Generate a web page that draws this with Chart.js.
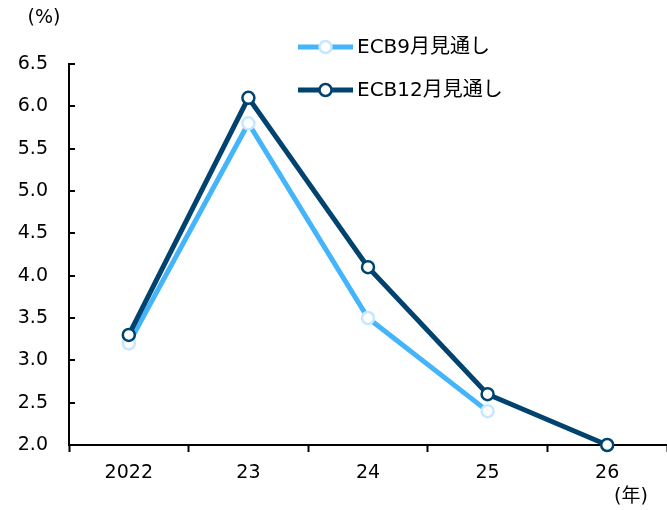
<!DOCTYPE html>
<html>
<head>
<meta charset="utf-8">
<script src="https://cdn.jsdelivr.net/npm/chart.js@4/dist/chart.umd.min.js"></script>
<style>
  html, body { margin: 0; padding: 0; background: #fff; }
  #wrap { position: relative; width: 667px; height: 510px; }
</style>
</head>
<body>
<div id="wrap"><canvas id="c" width="667" height="510"></canvas></div>
<script>
// Years on the horizontal axis
const years = ['2022', '23', '24', '25', '26'];
// ECB inflation projections (%)
const septProjection = [3.2, 5.8, 3.5, 2.4, null];
const decProjection = [3.3, 6.1, 4.1, 2.6, 2.0];
const seriesNames = ['ECB9月見通し', 'ECB12月見通し'];
const yMin = 2.0, yMax = 6.5, yStep = 0.5;

const FONT = "'DejaVu Sans', 'Noto Sans CJK JP', sans-serif";
const LIGHT = '#45b5fb';
const LIGHT_PT = '#c6e7ff';
const DARK = '#00436f';

// Short tick marks on the inside of the value axis, unit captions and legend
const extras = {
  id: 'extras',
  afterDraw(chart) {
    const ctx = chart.ctx;
    const y = chart.scales.y;
    const left = chart.chartArea.left;
    ctx.save();
    ctx.strokeStyle = '#000';
    ctx.lineWidth = 2;
    y.ticks.forEach(t => {
      const py = Math.round(y.getPixelForValue(t.value));
      ctx.beginPath();
      ctx.moveTo(left - 1, py);
      ctx.lineTo(left + 6, py);
      ctx.stroke();
    });
    ctx.fillStyle = '#000';
    ctx.font = '19px ' + FONT;
    ctx.textBaseline = 'middle';
    ctx.textAlign = 'center';
    ctx.fillText('(%)', 44, 18);
    ctx.fillText('(年)', 631, 497);

    // legend
    ctx.font = '20px ' + FONT;
    chart.data.datasets.forEach((ds, i) => {
      const ly = 47 + i * 43;
      ctx.strokeStyle = ds.borderColor;
      ctx.lineWidth = ds.borderWidth;
      ctx.beginPath();
      ctx.moveTo(298, ly);
      ctx.lineTo(353, ly);
      ctx.stroke();
      ctx.beginPath();
      ctx.arc(325.5, ly, ds.pointRadius, 0, Math.PI * 2);
      ctx.fillStyle = ds.pointBackgroundColor;
      ctx.fill();
      ctx.lineWidth = ds.pointBorderWidth;
      ctx.strokeStyle = ds.pointBorderColor;
      ctx.stroke();
      ctx.fillStyle = '#000';
      ctx.textAlign = 'left';
      ctx.fillText(ds.label, 357, ly + 1);
    });
    ctx.restore();
  }
};

new Chart(document.getElementById('c'), {
  type: 'line',
  data: {
    labels: years,
    datasets: [
      {
        label: seriesNames[0],
        data: septProjection,
        borderColor: LIGHT,
        borderWidth: 5,
        pointRadius: 6,
        pointBorderWidth: 2.5,
        pointBackgroundColor: '#fff',
        pointBorderColor: LIGHT_PT,
        clip: false,
        order: 2
      },
      {
        label: seriesNames[1],
        data: decProjection,
        borderColor: DARK,
        borderWidth: 5,
        pointRadius: 6,
        pointBorderWidth: 2.5,
        pointBackgroundColor: '#fff',
        pointBorderColor: DARK,
        clip: false,
        order: 1
      }
    ]
  },
  options: {
    responsive: false,
    animation: false,
    layout: { autoPadding: false, padding: { top: 64, right: 0, left: 0, bottom: 0 } },
    plugins: { legend: { display: false }, tooltip: { enabled: false } },
    scales: {
      x: {
        offset: true,
        grid: {
          offset: true,
          drawOnChartArea: false,
          drawTicks: true,
          tickLength: 7,
          tickWidth: 2,
          tickColor: '#000'
        },
        border: { display: true, color: '#000', width: 2 },
        ticks: { color: '#000', font: { family: FONT, size: 19 }, padding: 10, maxRotation: 0 },
        afterFit(s) { s.height = 65; }
      },
      y: {
        min: yMin,
        max: yMax,
        grid: { drawOnChartArea: false, drawTicks: false },
        border: { display: true, color: '#000', width: 2 },
        ticks: {
          stepSize: yStep,
          color: '#000',
          font: { family: FONT, size: 19 },
          padding: 21,
          callback: v => Number(v).toFixed(1)
        },
        afterFit(s) { s.width = 69; }
      }
    }
  },
  plugins: [extras]
});
</script>
</body>
</html>
